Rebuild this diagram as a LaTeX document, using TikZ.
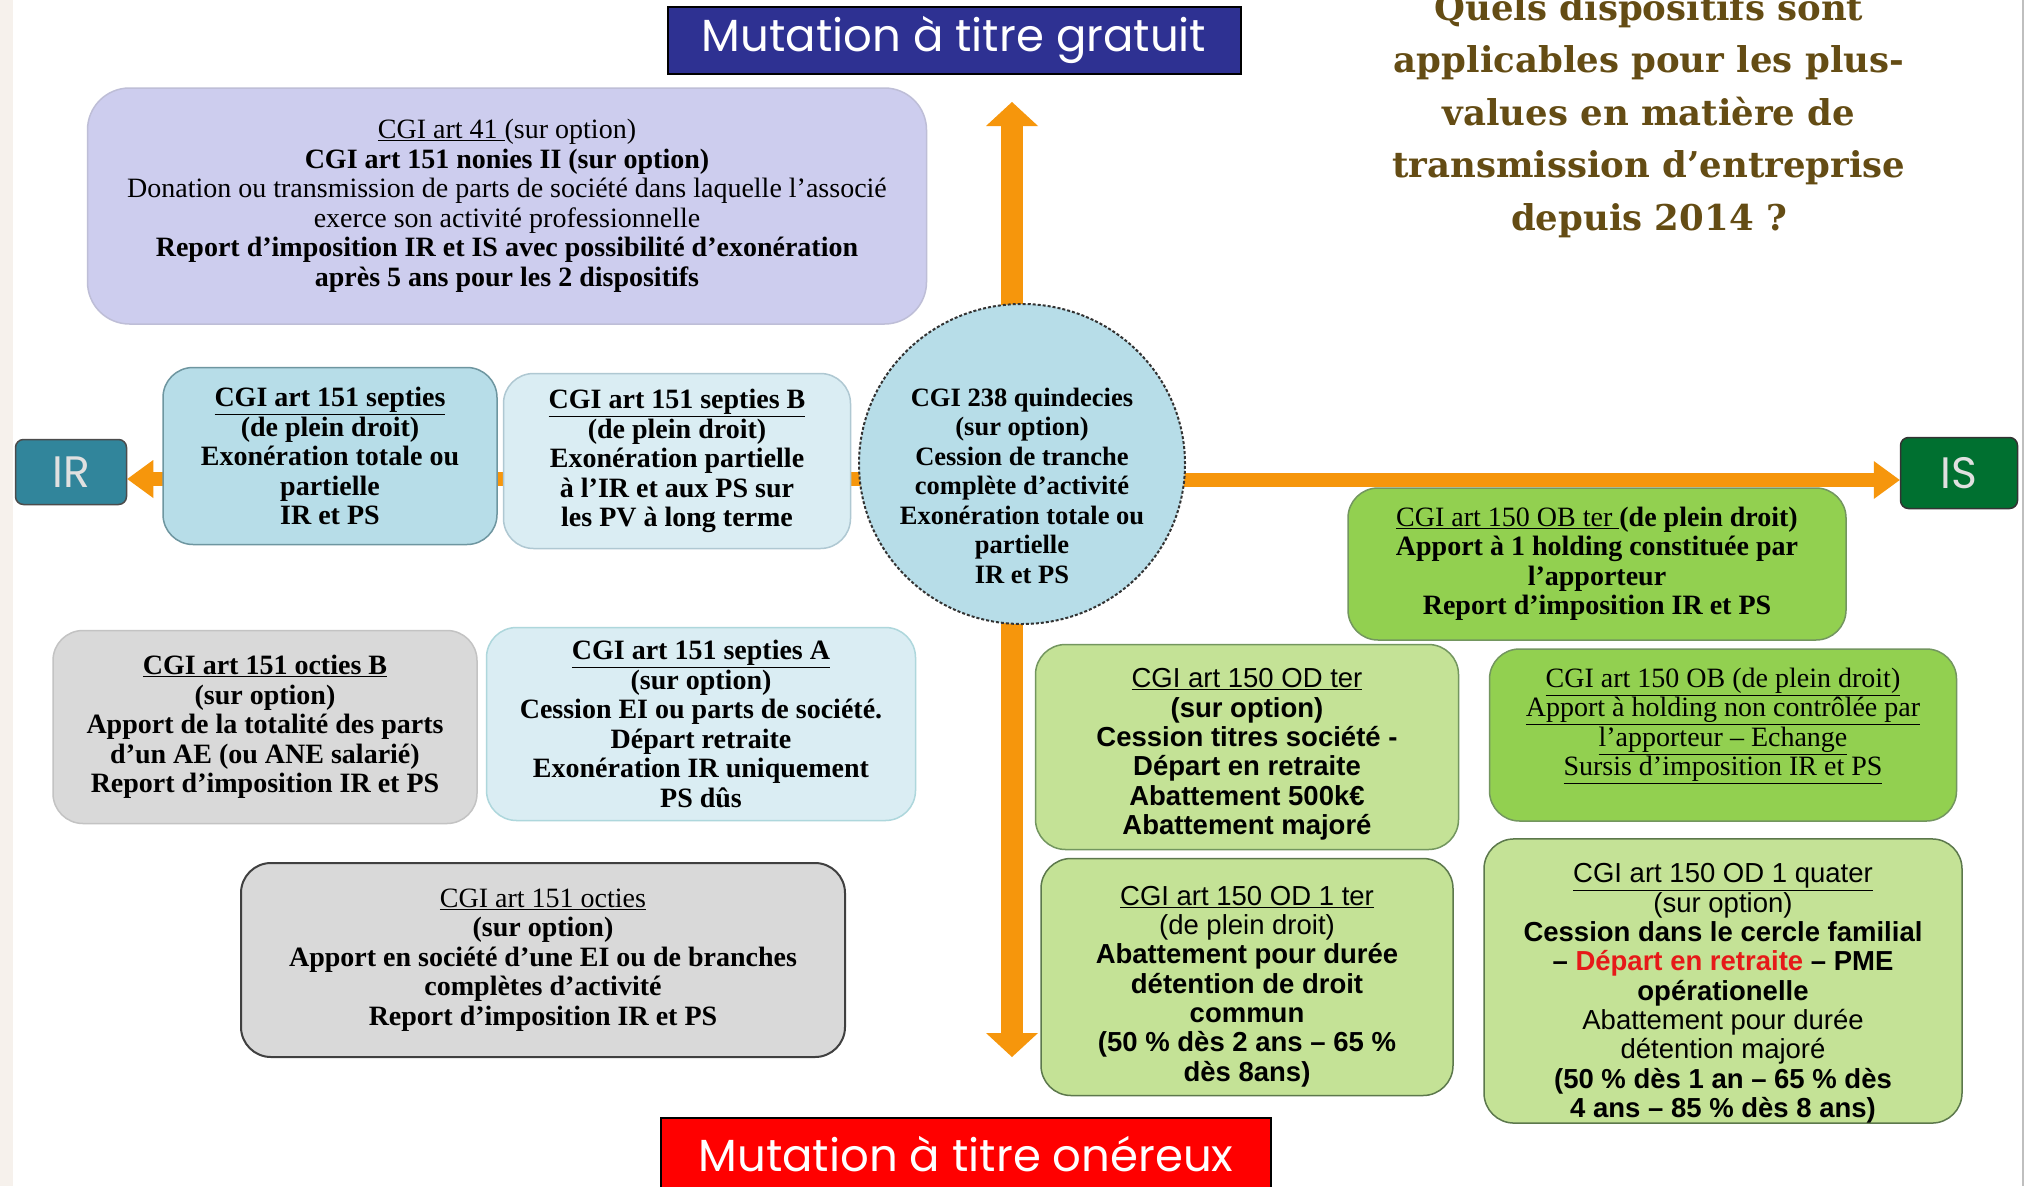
\documentclass[tikz,border=0pt]{standalone}
\usepackage{fontspec}
\setmainfont{Liberation Serif}
\setsansfont{Liberation Sans}
\newfontfamily\titlefont{DejaVu Serif}
\newfontfamily\bannerfont{Poppins}
\usetikzlibrary{arrows.meta,backgrounds,shapes.geometric}
\definecolor{axisorange}{RGB}{246,150,12}
\definecolor{lavender}{RGB}{205,205,238}
\definecolor{lavenderline}{RGB}{190,190,215}
\definecolor{tealfill}{RGB}{183,221,232}
\definecolor{tealline}{RGB}{110,150,160}
\definecolor{palefill}{RGB}{218,237,243}
\definecolor{paleline}{RGB}{175,200,210}
\definecolor{greyfill}{RGB}{217,217,217}
\definecolor{greyline}{RGB}{195,195,195}
\definecolor{greenfill}{RGB}{146,208,80}
\definecolor{greenline}{RGB}{115,150,95}
\definecolor{lightgreen}{RGB}{196,226,150}
\definecolor{irteal}{RGB}{49,133,155}
\definecolor{isgreen}{RGB}{0,112,48}
\definecolor{bannerblue}{RGB}{46,49,146}
\definecolor{bannerred}{RGB}{255,0,0}
\definecolor{titlegold}{RGB}{100,76,20}
\definecolor{textred}{RGB}{230,25,25}
\definecolor{leftstrip}{RGB}{246,241,236}
\newcommand{\padtop}[1]{\rule{0pt}{#1}}
\newcommand{\padbot}[1]{\rule[-#1]{0pt}{#1}}
\begin{document}
\begin{tikzpicture}[x=1pt,y=-1pt,
    box/.style={draw,rounded corners=30pt,line width=1.5pt,align=center,inner sep=4pt},
    serifbox/.style={box,font=\fontsize{28}{29.5}\selectfont},
    boldbox/.style={box,font=\bfseries\fontsize{28}{29.5}\selectfont},
    sansbox/.style={box,font=\sffamily\fontsize{27.5}{29.3}\selectfont},
    banner/.style={draw=black,line width=2pt,inner sep=0pt,text=white,font=\bannerfont\fontsize{45}{48}\selectfont},
    taxbox/.style={draw,rounded corners=8pt,line width=1.5pt,inner sep=0pt,text=black!12,font=\bannerfont\fontsize{44}{46}\selectfont},
    vaxis/.style={draw=axisorange,line width=22pt,-{Triangle[length=24pt,width=52pt,line width=0pt]}},
    haxis/.style={draw=axisorange,line width=14pt,-{Triangle[length=26pt,width=38pt,line width=0pt]}}]
\useasboundingbox (0,0) rectangle (2031,1186);

\node[banner,fill=bannerblue,minimum width=573pt,minimum height=67pt] (gratuit) at (954,40) {Mutation à titre gratuit};
\node[banner,fill=bannerred,minimum width=610pt,minimum height=72pt] (onereux) at (966,1154) {Mutation à titre onéreux};

\node[font=\titlefont\bfseries\fontsize{35.5}{52.5}\selectfont,text=titlegold,align=center,anchor=north,inner sep=0pt] (title) at (1649,-7)
  {Quels dispositifs sont\\applicables pour les plus-\\values en matière de\\transmission d’entreprise\\depuis 2014 ?};

\node[serifbox,fill=lavender,draw=lavenderline,rounded corners=42pt,minimum width=839pt,minimum height=236pt] (art41) at (507,206)
  {\underline{CGI art 41 }(sur option)\\
   \textbf{CGI art 151 nonies II (sur option)}\\
   Donation ou transmission de parts de société dans laquelle l’associé\\
   exerce son activité professionnelle\\
   \textbf{Report d’imposition IR et IS avec possibilité d’exonération}\\
   \textbf{après 5 ans pour les 2 dispositifs}};

\node[taxbox,fill=irteal,draw=black!70,minimum width=111pt,minimum height=65pt] (IR) at (71,472) {IR};
\node[taxbox,fill=isgreen,draw=black!80,minimum width=117pt,minimum height=71pt] (IS) at (1959,473) {IS};

\node[boldbox,fill=tealfill,draw=tealline,minimum width=334pt,minimum height=177pt] (septies) at (330,456)
  {\underline{CGI art 151 septies}\\(de plein droit)\\Exonération totale ou\\partielle\\IR et PS};
\node[boldbox,fill=palefill,draw=paleline,minimum width=347pt,minimum height=175pt] (septiesB) at (677,461)
  {\underline{CGI art 151 septies B}\\(de plein droit)\\Exonération partielle\\à  l’IR et aux PS sur\\les PV à long terme};

\node[ellipse,draw=black!80,densely dashed,line width=2pt,fill=tealfill,minimum width=326pt,minimum height=320pt,inner xsep=-8pt,inner ysep=-20pt,align=center,font=\bfseries\fontsize{26.5}{29.5}\selectfont] (circ) at (1022,464)
  {\padtop{62pt}CGI 238 quindecies\\(sur option)\\Cession de tranche\\complète d’activité\\Exonération totale ou\\partielle\\IR et PS};

\node[boldbox,fill=greenfill,draw=greenline,minimum width=498pt,minimum height=152pt] (OBter) at (1597,564)
  {\underline{\mdseries CGI art 150 OB ter }(de plein droit)\\Apport à 1 holding constituée par\\l’apporteur\\Report d’imposition IR et PS};

\node[boldbox,fill=greyfill,draw=greyline,minimum width=424pt,minimum height=193pt] (octiesB) at (265,727)
  {\underline{CGI art 151 octies B}\\(sur option)\\Apport de la totalité des parts\\d’un AE (ou ANE salarié)\\Report d’imposition IR et PS};
\node[boldbox,fill=palefill,draw=palefill!80!teal,minimum width=429pt,minimum height=193pt] (septiesA) at (701,724)
  {\underline{CGI art 151 septies A}\\(sur option)\\Cession EI ou parts de société.\\Départ retraite\\Exonération IR uniquement\\PS dûs};
\node[boldbox,fill=greyfill,draw=black!75,line width=2pt,minimum width=604pt,minimum height=194pt] (octies) at (543,960)
  {\underline{\mdseries CGI art 151 octies}\\(sur option)\\Apport en société d’une EI ou de branches\\complètes d’activité\\Report d’imposition IR et PS};

\node[sansbox,fill=lightgreen,draw=greenline,minimum width=423pt,minimum height=205pt] (ODter) at (1247,747)
  {\padtop{34pt}\underline{CGI art 150 OD ter}\\\textbf{(sur option)}\\\textbf{Cession titres société -}\\\textbf{Départ en retraite}\\\textbf{Abattement 500k€}\\\textbf{Abattement majoré}};
\node[serifbox,fill=greenfill,draw=greenline,minimum width=467pt,minimum height=172pt] (OB) at (1723,735)
  {\underline{CGI art 150 OB (de plein droit)}\\\underline{Apport à holding non contrôlée par}\\\underline{l’apporteur – Echange}\\\underline{Sursis d’imposition IR et PS}\padbot{26pt}};
\node[sansbox,fill=lightgreen,draw=greenline!80!black,minimum width=412pt,minimum height=237pt] (ODter1) at (1247,977)
  {\padtop{38pt}\underline{CGI art 150 OD 1 ter}\\(de plein droit)\\\textbf{Abattement pour durée}\\\textbf{détention de droit}\\\textbf{commun}\\\textbf{(50 \% dès 2 ans – 65 \%}\\\textbf{dès 8ans)}};
\node[sansbox,inner sep=0pt,fill=lightgreen,draw=greenline!80!black,minimum width=478pt,minimum height=283pt] (ODquater) at (1723,981)
  {\padtop{44pt}\underline{CGI art 150 OD 1 quater}\\(sur option)\\\textbf{Cession dans le cercle familial}\\\textbf{– \textcolor{textred}{Départ en retraite} – PME}\\\textbf{opérationelle}\\Abattement pour durée\\détention majoré\\\textbf{(50 \% dès 1 an – 65 \% dès}\\\textbf{4 ans – 85 \% dès 8 ans)}};

\coordinate (gtop) at (1012,102);
\coordinate (gbot) at (1012,1057);
\begin{scope}[on background layer]
\fill[white] (0,0) rectangle (2031,1186);
\fill[leftstrip] (0,0) rectangle (13,1186);
\draw[black!25,line width=2pt] (2023,0) -- (2023,1186);
\draw[vaxis] (circ.center -| gtop) -- (gtop);
\draw[vaxis] (circ.center -| gbot) -- (gbot);
\draw[haxis] ([yshift=-7pt]IR.east -| circ.center) -- ([yshift=-7pt]IR.east);
\draw[haxis] ([yshift=-7pt]IS.west -| circ.center) -- ([yshift=-7pt]IS.west);
\end{scope}
\end{tikzpicture}
\end{document}
